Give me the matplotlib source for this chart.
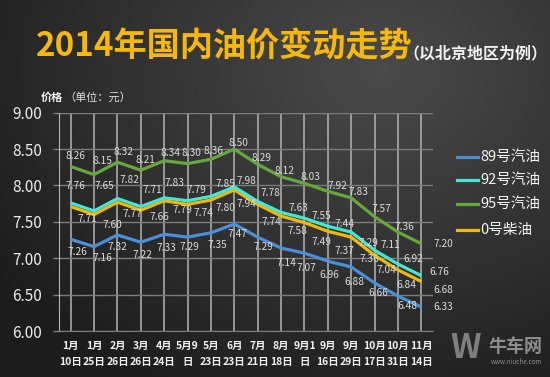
import numpy as np
import matplotlib
matplotlib.use("Agg")
import matplotlib.pyplot as plt
from matplotlib.lines import Line2D

plt.rcParams['font.family'] = ['Noto Sans CJK SC', 'DejaVu Sans']

# 数据（北京地区，单位：元/升）
dates = ["1月\n10日", "1月\n25日", "2月\n26日", "3月\n26日", "4月\n24日", "5月9\n日",
         "5月\n23日", "6月\n23日", "7月\n21日", "8月\n18日", "9月1\n日", "9月\n16日",
         "9月\n29日", "10月\n17日", "10月\n31日", "11月\n14日"]
oil_89 = [7.26, 7.16, 7.32, 7.22, 7.33, 7.29, 7.35, 7.47, 7.29, 7.14, 7.07, 6.96, 6.88, 6.66, 6.48, 6.33]
oil_92 = [7.76, 7.65, 7.82, 7.71, 7.83, 7.79, 7.85, 7.98, 7.78, 7.63, 7.55, 7.44, 7.36, 7.11, 6.92, 6.76]
oil_95 = [8.26, 8.15, 8.32, 8.21, 8.34, 8.30, 8.36, 8.50, 8.29, 8.12, 8.03, 7.92, 7.83, 7.57, 7.36, 7.20]
diesel_0 = [7.71, 7.60, 7.77, 7.66, 7.79, 7.74, 7.80, 7.94, 7.74, 7.58, 7.49, 7.37, 7.29, 7.04, 6.84, 6.68]
names = ["89号汽油", "92号汽油", "95号汽油", "0号柴油"]

# 数据标签偏移（像素，dx, dy 向上为正）
off_89 = [(7, -13), (8, -11), (0, -12), (2, -13), (2, -14), (2, -10), (6, -12), (3, -10),
          (6, -10), (5, -15), (2, -15), (1, -14), (3, -15), (4, -10), (9, -10), (22, 0)]
off_92 = [(5, 17), (10, 25), (12, 19), (12, 17), (10, 15), (9, 11), (14, 12), (12, 6),
          (13, 8), (17, 4), (17, 2), (17, 2), (18, -27), (16, 5), (15, 5), (18, 4)]
off_95 = [(5, 11), (8, 14), (6, 10), (5, 10), (6, 8), (4, 11), (2, 8), (4, 6),
          (4, 6), (3, 6), (6, 6), (10, 5), (7, 6), (7, 8), (6, 5), (22, 0)]
off_0 = [(17, -12), (18, -10), (15, -12), (19, -7), (18, -9), (16, -9), (14, -8), (12, -14),
         (14, -18), (16, -15), (17, -19), (17, -20), (17, -6), (12, -15), (8, -15), (22, -8)]

W, H = 550, 377
fig = plt.figure(figsize=(W / 100, H / 100), dpi=100)

# 背景渐变
bg = fig.add_axes([0, 0, 1, 1])
bg.axis('off')
yy, xx = np.mgrid[0:H, 0:W]
r = np.clip(np.hypot(xx - 380, (yy - 70) * 1.3) / 470, 0, 1)
c0, c1 = 0x4a / 255, 0x1c / 255
img = c0 + (c1 - c0) * r
bg.imshow(np.dstack([img] * 3), extent=[0, W, H, 0], aspect='auto')
bg.set_xlim(0, W)
bg.set_ylim(H, 0)

ax = fig.add_axes([59 / W, 1 - 331 / H, (433 - 59) / W, (331 - 112.7) / H])
ax.patch.set_alpha(0)
ax.set_xlim(-0.5, 15.5)
ax.set_ylim(6, 9)

x = np.arange(len(dates))
series = [(oil_95, '#66a83c', off_95), (oil_89, '#4b8fd8', off_89),
          (diesel_0, '#f3b705', off_0), (oil_92, '#44e6d8', off_92)]
for vals, col, offs in series:
    ax.plot(x, vals, color=col, lw=2.3, solid_capstyle='butt', zorder=3)
    for i, v in enumerate(vals):
        dx, dy = offs[i]
        ax.annotate("%.2f" % v, (x[i], v), xytext=(dx * 0.72, dy * 0.72),
                    textcoords='offset points', ha='center', va='center',
                    fontsize=7.3, color='#dcdcdc', annotation_clip=False, zorder=4)

ax.set_yticks(np.arange(6, 9.01, 0.5))
ax.set_yticklabels(["%.2f" % t for t in np.arange(6, 9.01, 0.5)])
ax.set_xticks(x)
ax.set_xticklabels(dates, linespacing=1.75)
ax.yaxis.grid(True, color='#7c7c7c', lw=1)
ax.xaxis.grid(True, color='#b4b4b4', lw=1.1)
ax.set_axisbelow(True)
ax.tick_params(axis='y', length=4.3, color='#7c7c7c', width=1, pad=8,
               labelsize=11, labelcolor='#ececec')
ax.tick_params(axis='x', length=0, pad=7, labelsize=7.5, labelcolor='#f0f0f0')
for lab in ax.get_xticklabels():
    lab.set_fontweight('bold')
for s in ['top', 'right']:
    ax.spines[s].set_visible(False)
ax.spines['left'].set_color('#b4b4b4')
ax.spines['bottom'].set_color('#7c7c7c')

# 标题
fig.text(36 / W, 1 - 47 / H, "2014年国内油价变动走势", fontsize=23.9, fontweight='bold',
         color='#f6b80c', va='center', ha='left')
fig.text(403 / W, 1 - 53 / H, "（以北京地区为例）", fontsize=11.5, fontweight='bold',
         color='#f0f0f0', va='center', ha='left')
fig.text(41 / W, 1 - 97 / H, "价格", fontsize=8, fontweight='bold', color='#f0f0f0',
         va='center', ha='left')
fig.text(64 / W, 1 - 97 / H, "（单位：元）", fontsize=8, color='#e0e0e0',
         va='center', ha='left')

# 图例
leg_cols = ['#4b8fd8', '#44e6d8', '#66a83c', '#f3b705']
for name, col, yp in zip(names, leg_cols, [157, 180, 204, 230]):
    fig.add_artist(Line2D([457 / W, 478 / W], [1 - yp / H] * 2, color=col, lw=2.3,
                          transform=fig.transFigure))
    fig.text(480 / W, 1 - yp / H, name, fontsize=10.5, color='#f4f4f4',
             va='center', ha='left')

# 水印
fig.text(466 / W, 1 - 348 / H, "W", fontsize=24, fontweight='bold', color='#8a8a8a',
         ha='center', va='center', alpha=0.9)
fig.text(516 / W, 1 - 347 / H, "牛车网", fontsize=13, fontweight='bold', color='#8e8e8e',
         ha='center', va='center')
fig.text(517 / W, 1 - 362 / H, "www.niuche.com", fontsize=4.5, color='#8e8e8e',
         ha='center', va='center')

fig.savefig("out.png", dpi=100)
